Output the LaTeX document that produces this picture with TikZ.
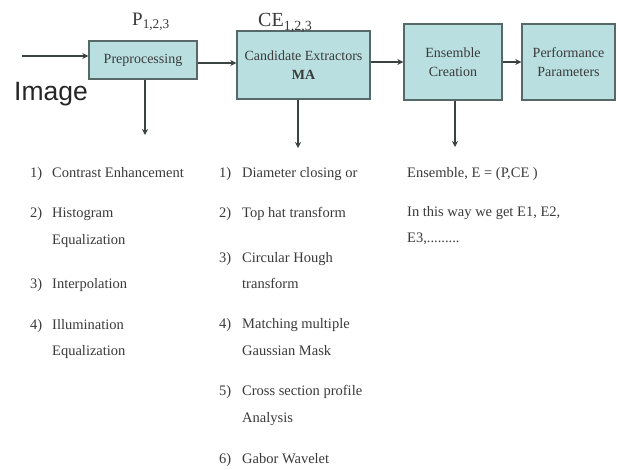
\documentclass[tikz,border=0pt]{standalone}
\usepackage{fontspec}
\setmainfont{Liberation Serif}
\newfontfamily\imgfont{Liberation Sans}
\usetikzlibrary{arrows.meta}
\definecolor{boxfill}{HTML}{B9DFE1}
\definecolor{boxline}{HTML}{566868}
\definecolor{txt}{HTML}{3A3A3A}
\definecolor{arrc}{HTML}{3A4242}
\begin{document}
\begin{tikzpicture}[x=1pt,y=-1pt,
  blk/.style={draw=boxline, line width=1.4pt, fill=boxfill, inner sep=0pt, align=center,
    text=txt, font=\fontsize{14}{19}\selectfont},
  arr/.style={draw=arrc, line width=1.3pt, -{Stealth[length=6pt,width=6pt]}},
  num/.style={anchor=base west, inner sep=0pt, text=txt, font=\fontsize{14.5}{17}\selectfont},
  itm/.style={anchor=base west, inner sep=0pt, text=txt, font=\fontsize{14.5}{17}\selectfont},
  lbl/.style={anchor=base west, inner sep=0pt, text=txt}]
\useasboundingbox[fill=white] (0,0) rectangle (618,470);

% boxes
\node[blk, minimum width=108pt, minimum height=38pt] (pre) at (143,60) {Preprocessing};
\node[blk, minimum width=133pt, minimum height=68pt] (ce) at (303.5,65) {Candidate Extractors\\\textbf{MA}};
\node[blk, minimum width=98pt, minimum height=76pt] (ec) at (453,62) {Ensemble\\Creation};
\node[blk, minimum width=93pt, minimum height=76pt] (pp) at (568.5,62) {Performance\\Parameters};

% labels above
\node[lbl, font=\fontsize{19}{22}\selectfont] (plbl) at (132,26) {P\textsubscript{1,2,3}};
\node[lbl, font=\fontsize{20}{23}\selectfont] (celbl) at (258,27) {CE\textsubscript{1,2,3}};
\node[lbl, font=\imgfont\fontsize{26.5}{30}\selectfont, text=black!85] (img) at (14,101) {Image};

% connectors
\coordinate (in) at (22,56);
\draw[arr] (in) -- (in -| pre.west);
\draw[arr] ([yshift=-3pt]pre.east) -- ([yshift=-3pt]pre.east -| ce.west);
\draw[arr] (ce.east |- ec.west) -- (ec.west);
\draw[arr] (ec.east) -- (pp.west);

\coordinate (pd) at (145,135);
\coordinate (cd) at (298,148);
\coordinate (ed) at (455,147);
\draw[arr] (pd |- pre.south) -- (pd);
\draw[arr] (cd |- ce.south) -- (cd);
\draw[arr] (ed |- ec.south) -- (ed);

% left list
\node[num] (a1n) at (30,178) {1)};
\node[itm] (a1) at (52,178) {Contrast Enhancement};
\node[num] (a2n) at (30,218) {2)};
\node[itm] (a2) at (52,218) {Histogram};
\node[itm] (a2b) at (52,245) {Equalization};
\node[num] (a3n) at (30,288) {3)};
\node[itm] (a3) at (52,288) {Interpolation};
\node[num] (a4n) at (30,329) {4)};
\node[itm] (a4) at (52,329) {Illumination};
\node[itm] (a4b) at (52,355) {Equalization};

% middle list
\node[num] (b1n) at (219,178) {1)};
\node[itm] (b1) at (242,178) {Diameter closing or};
\node[num] (b2n) at (219,218) {2)};
\node[itm] (b2) at (242,218) {Top hat transform};
\node[num] (b3n) at (219,262) {3)};
\node[itm] (b3) at (242,262) {Circular Hough};
\node[itm] (b3b) at (242,288) {transform};
\node[num] (b4n) at (219,328) {4)};
\node[itm] (b4) at (242,328) {Matching multiple};
\node[itm] (b4b) at (242,355) {Gaussian Mask};
\node[num] (b5n) at (219,395) {5)};
\node[itm] (b5) at (242,395) {Cross section profile};
\node[itm] (b5b) at (242,422) {Analysis};
\node[num] (b6n) at (219,463) {6)};
\node[itm] (b6) at (242,463) {Gabor Wavelet};

% right text
\node[itm] (c1) at (407,178) {Ensemble, E = (P,CE )};
\node[itm] (c2) at (407,217) {In this way we get E1, E2,};
\node[itm] (c3) at (407,243) {E3,.........};
\end{tikzpicture}
\end{document}
